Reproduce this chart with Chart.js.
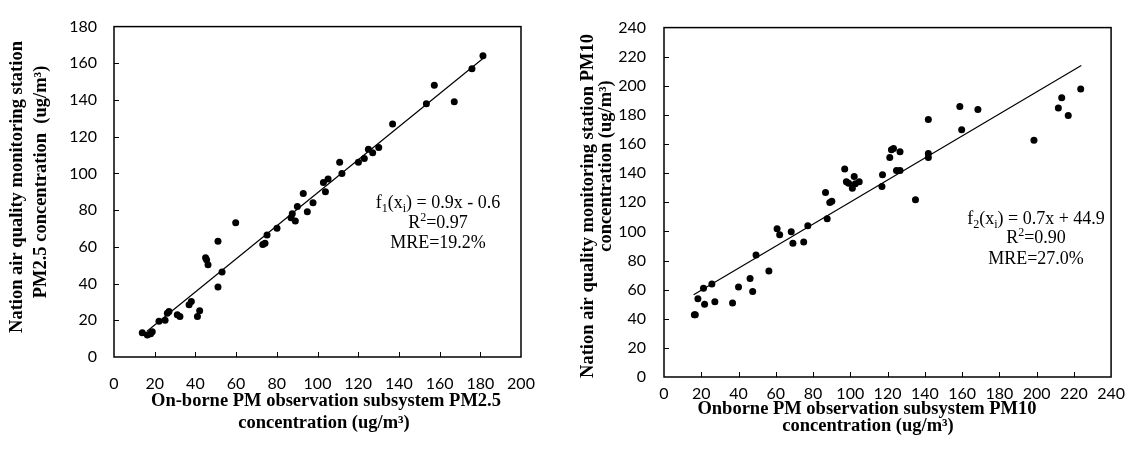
<!DOCTYPE html>
<html>
<head>
<meta charset="utf-8">
<script src="https://cdn.jsdelivr.net/npm/chart.js@4"></script>
<style>
  body { margin: 0; background: #fff; }
  .box { position: absolute; top: 0; width: 566px; height: 449px; }
</style>
</head>
<body>
<div class="box" style="left:0"><canvas id="pm25Chart"></canvas></div>
<div class="box" style="left:566px"><canvas id="pm10Chart"></canvas></div>
<script>
// PM2.5: onborne subsystem (x) vs national station (y)
const pm25X = [13.9, 16.4, 18.0, 18.8, 22.1, 25.1, 26.2, 27.0, 31.1, 32.4, 36.9, 38.0, 41.0, 42.1,
  45.0, 45.5, 46.2, 51.1, 51.1, 53.1, 59.8, 73.1, 74.2, 75.2, 80.1, 87.0, 87.6, 89.1, 90.1, 93.0,
  95.0, 97.8, 102.9, 103.9, 105.2, 110.9, 112.0, 120.1, 123.0, 125.0, 127.1, 130.1, 136.9, 153.5,
  157.4, 167.2, 175.9, 181.3];
const pm25Y = [13.2, 12.0, 12.7, 13.8, 19.5, 20.0, 23.9, 24.8, 23.0, 22.1, 28.4, 30.2, 22.1, 25.2,
  54.1, 53.0, 50.2, 63.0, 38.2, 46.3, 73.2, 61.3, 62.0, 66.4, 70.2, 75.9, 78.0, 74.1, 82.0, 89.1,
  79.1, 84.1, 95.0, 90.0, 97.0, 106.1, 100.0, 106.1, 108.2, 113.2, 111.3, 114.1, 127.0, 138.0,
  148.0, 139.1, 157.0, 164.1];
const pm25FitX = [16.2, 181.3];
const pm25FitY = [14.0, 162.6];
const pm25Ticks = { x: [0, 200, 20], y: [0, 180, 20] };

// PM10
const pm10X = [16.3, 16.8, 18.2, 21.2, 21.8, 25.7, 27.3, 36.8, 40.0, 46.2, 47.6, 49.4, 56.3, 60.7,
  62.1, 68.3, 69.2, 75.0, 77.2, 86.7, 87.6, 89.0, 90.1, 97.0, 97.9, 99.1, 101.1, 102.1, 102.7,
  104.8, 117.0, 117.3, 121.2, 122.1, 123.2, 124.8, 126.7, 126.7, 135.0, 141.9, 141.9, 141.9,
  158.8, 159.8, 168.5, 198.6, 211.7, 213.5, 217.0, 223.7];
const pm10Y = [42.8, 42.8, 53.8, 60.9, 49.9, 63.8, 51.7, 50.8, 61.8, 67.7, 58.8, 83.8, 72.8, 101.8,
  97.7, 99.8, 91.8, 92.7, 103.9, 126.8, 108.7, 119.9, 120.8, 142.8, 134.1, 133.0, 129.7, 137.8,
  132.7, 134.1, 130.9, 138.9, 150.8, 156.1, 157.0, 141.9, 141.9, 154.7, 121.7, 176.9, 153.5,
  150.8, 185.8, 169.8, 183.8, 162.7, 184.7, 191.8, 179.6, 197.9];
const pm10FitX = [15.9, 224.0];
const pm10FitY = [56.5, 214.0];
const pm10Ticks = { x: [0, 240, 20], y: [0, 240, 20] };

const serif = '"Liberation Serif", "Times New Roman", serif';

function drawRich(ctx, parts, cx, cy, size) {
  const small = Math.round(size * 0.65);
  let total = 0;
  parts.forEach(p => {
    ctx.font = (p[1] ? small : size) + 'px ' + serif;
    total += ctx.measureText(p[0]).width;
  });
  let x = cx - total / 2;
  ctx.textAlign = 'left';
  ctx.textBaseline = 'middle';
  parts.forEach(p => {
    ctx.font = (p[1] ? small : size) + 'px ' + serif;
    let dy = 0;
    if (p[1] === 'sub') dy = size * 0.3;
    if (p[1] === 'sup') dy = -size * 0.3;
    ctx.fillText(p[0], x, cy + dy);
    x += ctx.measureText(p[0]).width;
  });
}

const framePlugin = {
  id: 'frame',
  afterDraw(chart, args, opts) {
    const { ctx, chartArea: a, scales: { x, y } } = chart;
    ctx.save();
    ctx.strokeStyle = '#000';
    ctx.fillStyle = '#000';
    ctx.lineWidth = 1.5;
    ctx.strokeRect(a.left, a.top, a.width, a.height);
    ctx.lineWidth = 1;
    ctx.beginPath();
    x.ticks.forEach(t => {
      if (t.value <= x.min || t.value >= x.max) return;
      const px = Math.round(x.getPixelForValue(t.value)) + 0.5;
      ctx.moveTo(px, a.bottom);
      ctx.lineTo(px, a.bottom - 5);
    });
    y.ticks.forEach(t => {
      if (t.value <= y.min || t.value >= y.max) return;
      const py = Math.round(y.getPixelForValue(t.value)) + 0.5;
      ctx.moveTo(a.left, py);
      ctx.lineTo(a.left + 5, py);
    });
    ctx.stroke();

    // regression note
    opts.note.forEach((line, i) => drawRich(ctx, line, opts.noteX, opts.noteY[i], 18));

    // axis titles
    ctx.font = 'bold 18.5px ' + serif;
    ctx.textAlign = 'center';
    ctx.textBaseline = 'middle';
    opts.xTitle.forEach(t => ctx.fillText(t[0], t[1], t[2]));
    opts.yTitle.forEach(t => {
      ctx.save();
      ctx.translate(t[1], t[2]);
      ctx.rotate(-Math.PI / 2);
      ctx.fillText(t[0], 0, 0);
      ctx.restore();
    });
    ctx.restore();
  }
};

function makeChart(id, xs, ys, fitX, fitY, range, layout, frame) {
  const pts = xs.map((v, i) => ({ x: v, y: ys[i] }));
  const fit = fitX.map((v, i) => ({ x: v, y: fitY[i] }));
  const tickFont = { family: 'Lato', size: 16 };
  return new Chart(document.getElementById(id), {
    type: 'scatter',
    data: {
      datasets: [
        { data: pts, backgroundColor: '#000', borderColor: '#000', pointRadius: 3.5, pointBorderWidth: 0 },
        { type: 'line', data: fit, borderColor: '#000', borderWidth: 1.2, pointRadius: 0, fill: false }
      ]
    },
    options: {
      responsive: false,
      animation: false,
      events: [],
      layout: { padding: layout.padding },
      plugins: { legend: { display: false }, tooltip: { enabled: false }, frame: frame },
      scales: {
        x: {
          type: 'linear', min: range.x[0], max: range.x[1],
          grid: { display: false, drawTicks: false },
          border: { display: false },
          ticks: { stepSize: range.x[2], color: '#000', font: tickFont, padding: layout.xPad, maxRotation: 0 },
          afterFit: s => { s.height = layout.xH; }
        },
        y: {
          type: 'linear', min: range.y[0], max: range.y[1],
          grid: { display: false, drawTicks: false },
          border: { display: false },
          ticks: { stepSize: range.y[2], color: '#000', font: tickFont, padding: layout.yPad },
          afterFit: s => { s.width = layout.yW; }
        }
      }
    },
    plugins: [framePlugin]
  });
}

['pm25Chart', 'pm10Chart'].forEach(id => {
  const c = document.getElementById(id);
  c.width = 566; c.height = 449;
});

makeChart('pm25Chart', pm25X, pm25Y, pm25FitX, pm25FitY, pm25Ticks,
  { padding: { left: 0, top: 21, right: 45, bottom: 0 }, xH: 92, yW: 114, xPad: 17, yPad: 17 },
  {
    note: [
      [['f'], ['1', 'sub'], ['(x'], ['i', 'sub'], [') = 0.9x - 0.6']],
      [['R'], ['2', 'sup'], ['=0.97']],
      [['MRE=19.2%']]
    ],
    noteX: 438, noteY: [203, 223, 243],
    xTitle: [['On-borne PM observation subsystem PM2.5', 326, 401], ['concentration (ug/m³)', 324, 423]],
    yTitle: [['Nation air quality monitoring station', 17, 187], ['PM2.5 concentration  (ug/m³)', 41, 182]]
  });

makeChart('pm10Chart', pm10X, pm10Y, pm10FitX, pm10FitY, pm10Ticks,
  { padding: { left: 0, top: 27, right: 16, bottom: 0 }, xH: 72, yW: 98, xPad: 7, yPad: 18 },
  {
    note: [
      [['f'], ['2', 'sub'], ['(x'], ['i', 'sub'], [') = 0.7x + 44.9']],
      [['R'], ['2', 'sup'], ['=0.90']],
      [['MRE=27.0%']]
    ],
    noteX: 470, noteY: [219, 238, 259],
    xTitle: [['Onborne PM observation subsystem PM10', 301, 409], ['concentration (ug/m³)', 302, 426]],
    yTitle: [['Nation air quality monitoring station PM10', 22, 206], ['concentration (ug/m³)', 40, 166]]
  });
</script>
</body>
</html>
